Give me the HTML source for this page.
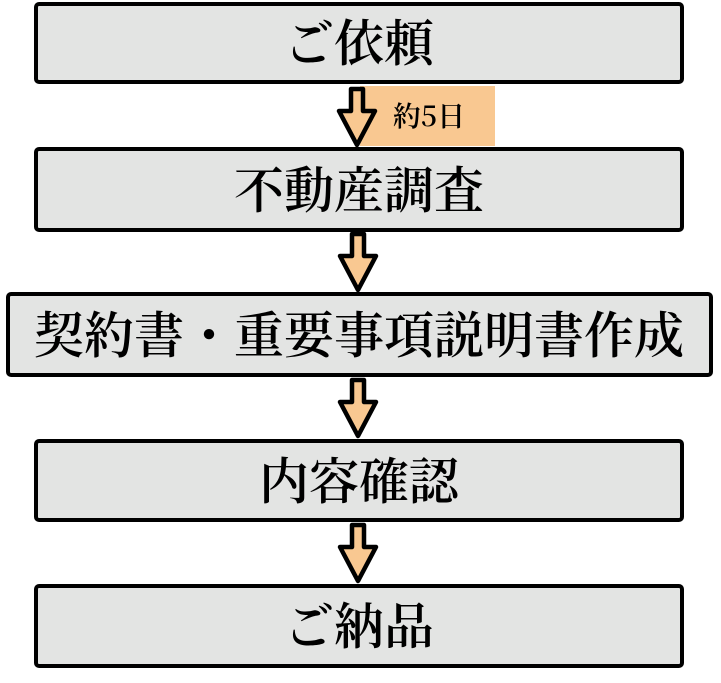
<!DOCTYPE html>
<html><head><meta charset="utf-8"><style>
html,body{margin:0;padding:0;background:#fff;}
svg{display:block;}
</style></head><body>
<svg width="721" height="683" viewBox="0 0 721 683" xmlns="http://www.w3.org/2000/svg">
<defs>
<g id="arr">
<polygon points="-6,0 6,0 6,22 18,22 0,56 -18,22 -6,22" fill="#f9c891" stroke="#000" stroke-width="4.5" stroke-linejoin="round"/>
</g>
</defs>
<rect x="360" y="86" width="135" height="60" fill="#f9c891"/>
<text x="429" y="126" font-size="28" font-weight="600" text-anchor="middle" fill="#000" font-family="'Noto Serif CJK JP','Noto Serif CJK SC','Liberation Serif',serif">約5日</text>
<g fill="#e3e4e3" stroke="#000" stroke-width="4">
<rect x="36" y="4" width="646" height="78" rx="3"/>
<rect x="36" y="149" width="646" height="81" rx="3"/>
<rect x="8" y="294" width="703" height="81" rx="3"/>
<rect x="36" y="441" width="646" height="79" rx="3"/>
<rect x="36" y="586" width="646" height="80" rx="3"/>
</g>
<use href="#arr" x="357" y="89"/>
<use href="#arr" x="358" y="234"/>
<use href="#arr" x="358" y="380"/>
<use href="#arr" x="358" y="525"/>
<g font-size="50" text-anchor="middle" fill="#000" font-weight="600" font-family="'Noto Serif CJK JP','Noto Serif CJK SC','Liberation Serif',serif">
<text x="359" y="61">ご依頼</text>
<text x="359" y="208">不動産調査</text>
<text x="359" y="353">契約書・重要事項説明書作成</text>
<text x="359" y="499">内容確認</text>
<text x="359" y="644">ご納品</text>
</g>
</svg>
</body></html>
